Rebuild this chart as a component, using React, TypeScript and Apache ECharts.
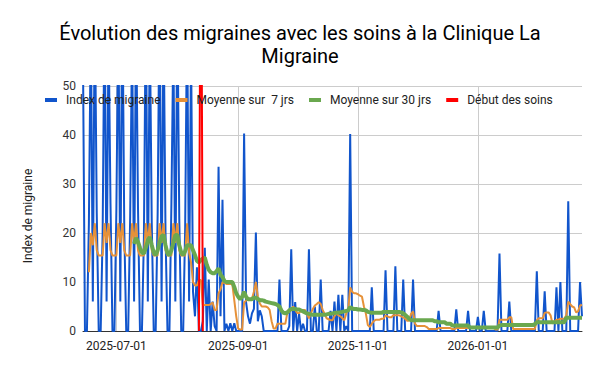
import React, { useEffect, useRef } from "react";
import * as echarts from "echarts";

// ---------- data ----------
const START_DATE = "2025-06-14"; // first day of the daily series
const TREATMENT_DATE = "2025-08-13";
const TREATMENT_MARK = [0, 100, 0]; // day before, start day, day after
const TICK_LABELS = ["2025-07-01", "2025-09-01", "2025-11-01", "2026-01-01"];
const Y_MIN = 0;
const Y_MAX = 50;
const Y_STEP = 10;

const TITLE = "Évolution des migraines avec les soins à la Clinique La\nMigraine";
const Y_NAME = "Index de migraine";
const NAMES = ["Index de migraine", "Moyenne sur  7 jrs", "Moyenne sur 30 jrs", "Début des soins"];

const INDEX_VALUES: (number | null)[] = [
  55, 0, 0, 22, 64, 6, 68, 24, 0, 0,
  20, 70, 6, 62, 26, 0, 0, 25, 66, 6,
  72, 21, 0, 0, 23, 61, 6, 67, 25, 0,
  0, 19, 69, 6, 63, 22, 0, 0, 24, 71,
  6, 65, 20, 0, 0, 26, 60, 6, 68, 23,
  0, 0, 21, 66, 6, 58, 8, 3, 13, 0,
  0, 2, 17, 0, 10.5, 0, 6, 1, 0, 33.5,
  3, 26.8, 0, 1.5, 0, 1.6, 0, 1.6, 0, 0,
  0, 0, 40.3, 5.9, 3, 1.5, 3.6, 4.5, 20.1, 2,
  4.2, 3, 0, 0, 0, 0, 0, 0, 0, 0,
  10.5, 0, 0, 0, 0, 1, 16.7, 0, 5.9, 0,
  3.5, 0, 1.5, 0, 0, 16.7, 0, 0, 5, 0,
  0, 10.5, 0, 0, 0, 0, 4.1, 0, 6, 0,
  7.4, 0, 7.4, 0, 1, 0, 40.2, 0, 0, 0,
  0, 0, 0, 0, 0, 0, 0, 8.9, 0, 0,
  0, 0, 0, 0, 12.4, 0, 0, 0, 0, 13.2,
  0, 0, 0, 10.5, 0, 0, 0, 0, 10.5, 0,
  0, 0, 0, 0, 0, 0, 0, 0, 0, 0,
  0, 4.1, 0, 0, 0, 0, 0, 0, 0, 0,
  4.4, 0, 0, 0, 0, 0, 4.1, 0, 0, 0,
  0, 2.9, 0, 0, 4.1, 0, 0, 0, 0, 0,
  0, 0, 15.8, 0, 0, 0, 0, 6, 0, 0,
  0, 0, 0, 0, 0, 0, 0, 0, 0, 0,
  0, 12.2, 0, 0, 0, 8.1, 0, 0, 0, 0,
  0, 8.9, 0, 10, 0, 0, 0, 26.5, 0, 0,
  0, 0, 0, 10, 3,
];

const AVG7_VALUES: (number | null)[] = [
  null, null, null, 12, 20, 17.5, 22, 16.5, 15.4, 15.4,
  15.4, 22, 18, 22, 16.5, 15.4, 15.4, 15.4, 22, 18,
  22, 16.5, 15.4, 15.4, 15.4, 22, 18, 22, 16.5, 15.4,
  15.4, 15.4, 22, 18, 22, 16.5, 15.4, 15.4, 15.4, 22,
  18, 22, 16.5, 15.4, 15.4, 15.4, 22, 18, 22, 16.5,
  15.4, 15.4, 15.4, 22, 16, 14, 10, 9.3, 9.3, 10.4,
  10.4, 5.3, 5.3, 5.3, 5.3, 5.5, 5.8, 4.3, 4.3, 7.7,
  8.5, 10, 9.8, 9.6, 9.6, 9.6, 9.6, 6.3, 3, 0.5,
  0.3, 0.3, 5.8, 6.2, 6.6, 6.6, 6.6, 8, 10, 7,
  5.6, 5, 5, 5, 4.8, 4.3, 2, 0.5, 0.5, 1.5,
  1.5, 1.5, 1.5, 1.5, 3.7, 4, 4.3, 5, 4.3, 3.7,
  3.6, 4.3, 4.3, 4.3, 3.5, 2.6, 3.6, 4.5, 5.2, 5.5,
  5.9, 5.5, 4.3, 3.5, 2.6, 2.4, 2.2, 2.2, 3, 3.6,
  3.2, 3, 2.6, 2.2, 3.6, 4.3, 8.9, 8, 7.7, 7.7,
  7.5, 7.2, 7, 5, 3.5, 1.2, 0.8, 1.5, 2, 2.3,
  2.3, 2.3, 2.5, 2.5, 3.2, 3, 2.8, 2.8, 3.2, 3.2,
  3.2, 3.2, 3, 2.8, 2.5, 2.1, 2.1, 3.5, 4, 1.5,
  1, 1, 1, 1, 1, 0.8, 0.4, 0.4, 0.4, 0.4,
  0.4, 0.6, 0.6, 0.6, 0.6, 0.6, 0.6, 0.6, 0.4, 0.4,
  0.6, 0.6, 0.6, 0.6, 0.6, 0.6, 0.6, 0.6, 0.6, 0.6,
  0.6, 0.6, 0.6, 0.6, 0.6, 0.6, 0.6, 0.6, 0.6, 0.6,
  0.3, 0.3, 2.3, 2.3, 2.3, 2.3, 2.3, 2.8, 2.8, 0.4,
  0.4, 0.4, 0.4, 0.4, 0.4, 0.4, 0.4, 0.4, 0.4, 0.4,
  0.4, 2.2, 2.6, 2.6, 2.6, 3.7, 3.8, 3.8, 3.2, 1.5,
  2, 2.3, 2.3, 2.5, 2.5, 2.5, 3.2, 6, 5.5, 5,
  4.8, 3.8, 4, 5.2, 5.3,
];

const AVG30_VALUES: (number | null)[] = [
  null, null, null, null, null, null, null, null, null, null,
  null, null, null, null, null, null, null, null, null, null,
  null, null, null, null, null, null, 17.8, 19, 18.2, 17,
  16, 15.8, 17, 18.5, 19.2, 17.5, 16, 15.5, 16.5, 18,
  19.3, 19.6, 17.5, 15.8, 15.5, 16.5, 18, 19.6, 19.6, 17.5,
  16, 15.5, 16.3, 17.5, 17.5, 17.5, 16.5, 15.5, 14.3, 14,
  14.5, 14.8, 15, 13.5, 12.5, 12, 11.8, 11.8, 12.2, 12.8,
  11.5, 11, 10.2, 10, 10, 10, 10, 9, 7.7, 7,
  6.5, 7, 8, 7, 6.5, 6.5, 6.5, 6.8, 6.8, 6.5,
  6.3, 6.3, 6.2, 6, 5.9, 5.8, 5.7, 5.6, 5.5, 5.3,
  5, 4.2, 3.7, 3.6, 3.8, 4.2, 4.5, 4.5, 4.5, 4.4,
  4.4, 4.2, 4, 3.8, 3.6, 3.5, 3.4, 3.3, 3.3, 3.3,
  3.3, 3.3, 3.3, 3.3, 3.4, 3.5, 3.5, 3.6, 3.7, 3.7,
  3.8, 3.8, 3.9, 4, 4.1, 4.2, 4.9, 4.6, 4.5, 4.5,
  4.4, 4.4, 4.3, 4.3, 4.2, 3.9, 3.8, 3.7, 3.7, 3.7,
  3.7, 3.7, 3.7, 3.9, 3.9, 3.9, 3.9, 3.9, 3.9, 3.9,
  3.9, 3.9, 3.8, 3.6, 3.3, 2.9, 2.5, 2.2, 2.2, 2.2,
  2.2, 2.2, 2.2, 2.2, 2.2, 2.2, 2.2, 2.2, 2.2, 2,
  2, 1.8, 1.8, 1.8, 1.8, 1.5, 1.5, 1.5, 1.1, 1.1,
  1.1, 1.1, 1.1, 1.1, 1.1, 1.1, 1.1, 0.7, 0.7, 0.7,
  0.7, 0.7, 0.7, 0.7, 0.7, 0.7, 0.7, 0.7, 0.7, 0.7,
  0.7, 0.7, 1.1, 1.2, 1.2, 1.2, 1.2, 1.2, 1.2, 1.2,
  1.2, 1.2, 1.2, 1.2, 1.2, 1.2, 1.2, 1.2, 1.2, 1.2,
  1.4, 1.8, 1.8, 1.8, 1.8, 1.8, 1.8, 1.8, 1.8, 1.8,
  1.8, 1.8, 1.8, 1.8, 1.8, 1.8, 2.7, 2.7, 2.7, 2.7,
  2.7, 2.7, 2.7, 2.7, 2.7,
];

const COLORS = ["#1155cc", "#e69138", "#6aa84f", "#ff0000"];

// consecutive daily categories starting at START_DATE
function buildDates(start: string, n: number): string[] {
  const [y, m, d] = start.split("-").map(Number);
  const t0 = Date.UTC(y, m - 1, d);
  const out: string[] = [];
  for (let i = 0; i < n; i++) {
    out.push(new Date(t0 + i * 86400000).toISOString().slice(0, 10));
  }
  return out;
}

const FONT = "Roboto, Arial, sans-serif";

export default function App() {
  const ref = useRef<HTMLDivElement>(null);

  useEffect(() => {
    if (!ref.current) return;
    const chart = echarts.init(ref.current, undefined, { renderer: "svg" });
    const dates = buildDates(START_DATE, INDEX_VALUES.length);
    const k = dates.indexOf(TREATMENT_DATE);
    const redData = [
      [dates[k - 1], TREATMENT_MARK[0]],
      [dates[k], TREATMENT_MARK[1]],
      [dates[k + 1], TREATMENT_MARK[2]],
    ];
    const showTick = (_i: number, v: string) => TICK_LABELS.includes(v);

    const lineSeries = (i: number, data: any[], width: number) => ({
      name: NAMES[i],
      type: "line",
      data,
      showSymbol: false,
      symbol: "none",
      color: COLORS[i],
      itemStyle: { color: COLORS[i] },
      lineStyle: { color: COLORS[i], width },
      clip: true,
    });

    chart.setOption({
      animation: false,
      backgroundColor: "#ffffff",
      title: {
        text: TITLE,
        left: "center",
        top: 21,
        padding: 0,
        textStyle: {
          fontFamily: FONT,
          fontSize: 20,
          fontWeight: "normal",
          color: "#000000",
          lineHeight: 23,
        },
      },
      legend: {
        data: NAMES,
        left: 45,
        top: 94,
        padding: 0,
        itemWidth: 12,
        itemHeight: 4,
        itemGap: 15,
        icon: "rect",
        textStyle: {
          fontFamily: FONT,
          fontSize: 12,
          color: "#222222",
          padding: [0, 0, 0, 4],
        },
      },
      grid: { left: 83, right: 18, top: 86, bottom: 40, containLabel: false },
      xAxis: {
        type: "category",
        data: dates,
        boundaryGap: false,
        axisLine: { show: true, lineStyle: { color: "#333333", width: 1 } },
        axisTick: { show: false },
        axisLabel: {
          interval: showTick,
          fontFamily: FONT,
          fontSize: 12,
          color: "#222222",
          margin: 9,
        },
        splitLine: {
          show: true,
          interval: showTick,
          lineStyle: { color: "#cccccc", width: 1 },
        },
      },
      yAxis: {
        type: "value",
        min: Y_MIN,
        max: Y_MAX,
        interval: Y_STEP,
        axisLine: { show: false },
        axisTick: { show: false },
        axisLabel: {
          fontFamily: FONT,
          fontSize: 12,
          color: "#333333",
          margin: 7,
        },
        splitLine: { lineStyle: { color: "#cccccc", width: 1 } },
      },
      graphic: [
        {
          type: "text",
          x: 28,
          y: 216,
          rotation: Math.PI / 2,
          style: {
            text: Y_NAME,
            fontFamily: FONT,
            fontSize: 12,
            fill: "#222222",
            align: "center",
            verticalAlign: "middle",
            textAlign: "center",
            textVerticalAlign: "middle",
          },
        },
      ],
      series: [
        lineSeries(0, INDEX_VALUES, 2),
        lineSeries(1, AVG7_VALUES, 2),
        lineSeries(2, AVG30_VALUES, 4),
        lineSeries(3, redData, 2),
      ],
    });
    return () => chart.dispose();
  }, []);

  return <div ref={ref} style={{ width: 600, height: 371, position: "absolute", left: 0, top: 0 }} />;
}
